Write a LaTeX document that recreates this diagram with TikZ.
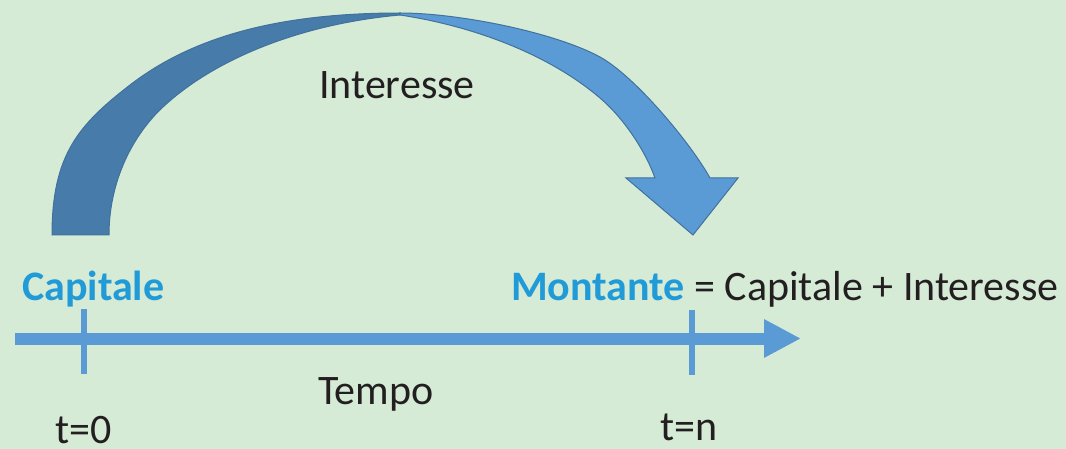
\documentclass[tikz,border=0pt]{standalone}
\usepackage{fontspec}
\setmainfont{Carlito}
\usetikzlibrary{arrows.meta}
\definecolor{bg}{RGB}{213,235,214}
\definecolor{ribdark}{RGB}{70,123,170}
\definecolor{riblight}{RGB}{91,155,213}
\definecolor{ribline}{RGB}{65,113,156}
\definecolor{axis}{RGB}{91,155,213}
\definecolor{txt}{RGB}{35,31,32}
\definecolor{capblue}{RGB}{33,155,215}
\tikzset{
  lbl/.style={anchor=base west, inner sep=0pt, text=txt, font=\fontsize{42}{50}\selectfont},
  axisline/.style={draw=axis, line width=12pt},
  tickline/.style={draw=axis, line width=6pt},
  ribbon/.style={draw=ribline, line width=1pt, line join=miter}
}
\begin{document}
\begin{tikzpicture}[x=1pt,y=-1pt]
\fill[bg] (0,0) rectangle (1066,449);
\useasboundingbox (0,0) rectangle (1066,449);
% curved arrow: back (dark) part
\filldraw[ribbon, fill=ribdark] (52,235)
  .. controls (52,155) and (78.6,124.7) .. (130,85)
  .. controls (193.3,36.1) and (280,13) .. (400,13)
  -- (400,15)
  .. controls (300,24) and (214.2,59.3) .. (163,107)
  .. controls (133.7,134.2) and (109,180) .. (109,235) -- cycle;
% curved arrow: front (light) part with head
\filldraw[ribbon, fill=riblight] (400,13)
  .. controls (460,13) and (556,32.9) .. (600,57)
  .. controls (635,76.3) and (690.6,143) .. (710,178)
  -- (738,178) -- (693,235) -- (626,178) -- (655,178)
  .. controls (644.9,149.7) and (622.9,117.4) .. (600,98)
  .. controls (546.7,52.6) and (470,25.5) .. (400,15) -- cycle;
% time axis
\coordinate (a0) at (15,338.5);
\coordinate (a1) at (801,338.5);
\draw[axisline, -{Triangle[length=37pt,width=36pt]}] (a0) -- (a1);
\coordinate (k0t) at (84,309);
\coordinate (k0b) at (84,374);
\coordinate (knt) at (692,310);
\coordinate (knb) at (692,375);
\draw[tickline] (k0t) -- (k0b);
\draw[tickline] (knt) -- (knb);
% labels
\node[lbl] (int) at (319,99) {Interesse};
\node[lbl, text=capblue, font=\fontsize{42}{50}\selectfont\bfseries] (cap) at (22,300) {Capitale};
\node[lbl] (mont) at (511,300) {{\bfseries\color{capblue}Montante} = Capitale + Interesse};
\node[lbl] (tempo) at (318,404) {Tempo};
\node[lbl] (t0) at (55,443.5) {t=0};
\node[lbl] (tn) at (660,440) {t=n};
\end{tikzpicture}
\end{document}
